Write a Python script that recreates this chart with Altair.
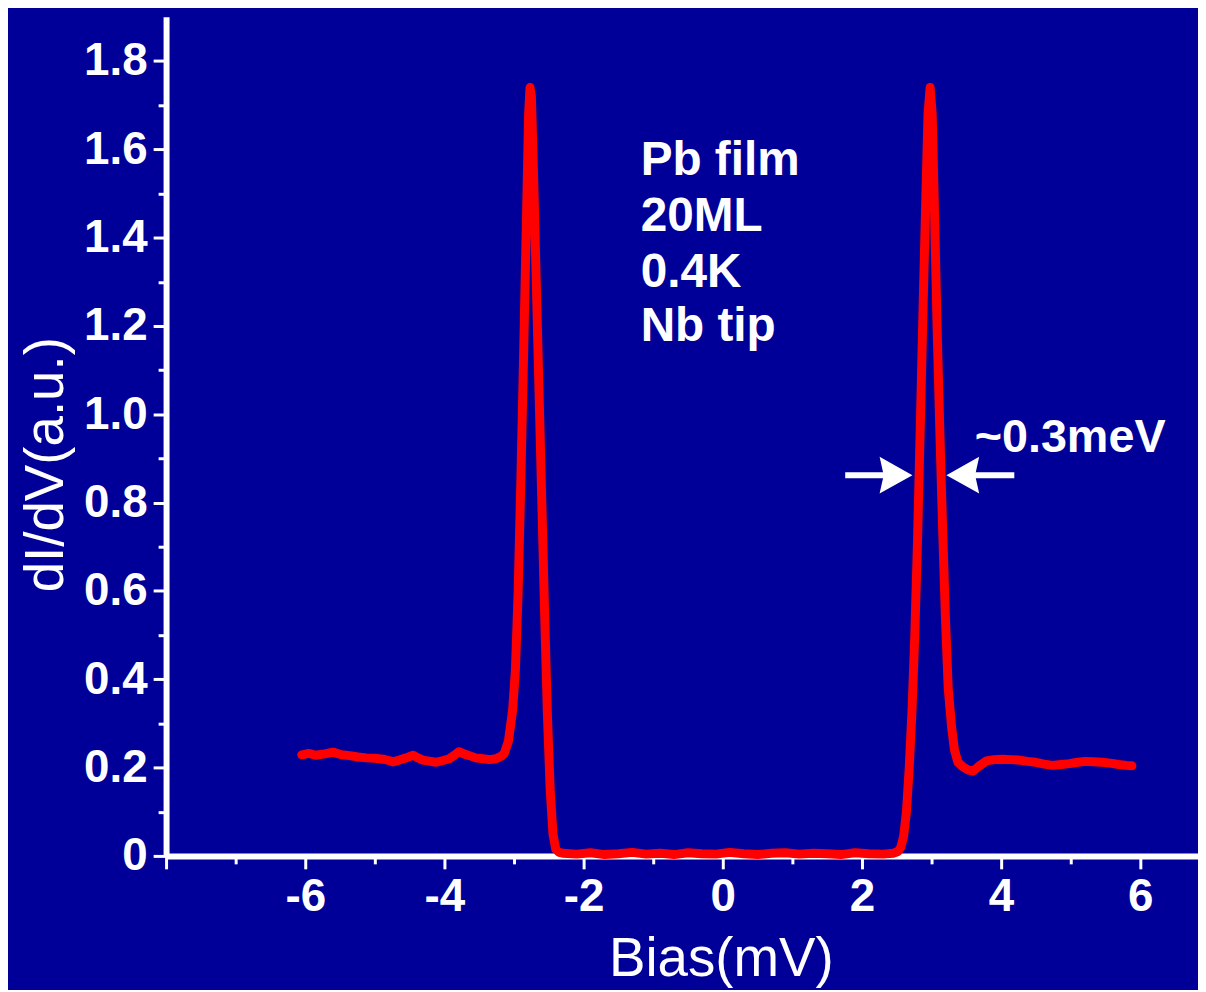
import altair as alt
import pandas as pd

# ---------------- data ----------------
bias_mV = [
    -6.05, -5.95, -5.85, -5.72, -5.60, -5.48, -5.36, -5.24, -5.12, -5.00,
    -4.88, -4.80, -4.74, -4.65, -4.55, -4.45, -4.38, -4.31, -4.20, -4.12,
    -4.02, -3.93, -3.85, -3.79, -3.72, -3.64, -3.55, -3.45, -3.35, -3.26,
    -3.18, -3.14, -3.08, -3.02, -2.98, -2.94, -2.90, -2.86, -2.82, -2.79,
    -2.77, -2.75, -2.72, -2.68, -2.64, -2.60, -2.56, -2.52, -2.48, -2.44,
    -2.40, -2.35, -2.30, -2.10, -1.90, -1.70, -1.50, -1.30, -1.10, -0.90,
    -0.70, -0.50, -0.30, -0.10, 0.10, 0.30, 0.50, 0.70, 0.90, 1.10,
    1.30, 1.50, 1.70, 1.90, 2.10, 2.30, 2.45, 2.52, 2.56, 2.60,
    2.64, 2.68, 2.72, 2.76, 2.80, 2.84, 2.88, 2.92, 2.95, 2.98,
    3.01, 3.04, 3.08, 3.12, 3.16, 3.20, 3.24, 3.29, 3.33, 3.38,
    3.45, 3.52, 3.60, 3.68, 3.79, 3.90, 4.02, 4.14, 4.26, 4.38,
    4.50, 4.62, 4.74, 4.86, 4.98, 5.10, 5.21, 5.33, 5.45, 5.57,
    5.69, 5.80, 5.88,
]
dIdV = [
    0.229, 0.232, 0.228, 0.231, 0.235, 0.229, 0.227, 0.224, 0.222, 0.221,
    0.219, 0.216, 0.213, 0.217, 0.222, 0.228, 0.222, 0.217, 0.214, 0.212,
    0.216, 0.220, 0.229, 0.236, 0.231, 0.227, 0.222, 0.220, 0.218, 0.220,
    0.226, 0.232, 0.260, 0.330, 0.420, 0.600, 0.860, 1.150, 1.450, 1.680,
    1.740, 1.720, 1.550, 1.300, 1.050, 0.800, 0.550, 0.320, 0.150, 0.050,
    0.015, 0.008, 0.006, 0.004, 0.007, 0.003, 0.005, 0.008, 0.004, 0.006,
    0.003, 0.007, 0.005, 0.004, 0.008, 0.005, 0.003, 0.006, 0.007, 0.004,
    0.006, 0.005, 0.003, 0.007, 0.005, 0.004, 0.006, 0.010, 0.020, 0.045,
    0.100, 0.200, 0.330, 0.500, 0.720, 0.980, 1.250, 1.500, 1.680, 1.740,
    1.680, 1.480, 1.200, 0.960, 0.740, 0.540, 0.380, 0.290, 0.240, 0.212,
    0.202, 0.195, 0.192, 0.203, 0.215, 0.218, 0.219, 0.218, 0.217, 0.214,
    0.212, 0.208, 0.205, 0.207, 0.209, 0.212, 0.214, 0.213, 0.212, 0.210,
    0.207, 0.205, 0.204,
]

x_major_ticks = [-8, -6, -4, -2, 0, 2, 4, 6]
x_minor_ticks = [-7, -5, -3, -1, 1, 3, 5]
y_major_ticks = [0, 0.2, 0.4, 0.6, 0.8, 1.0, 1.2, 1.4, 1.6, 1.8]
y_minor_ticks = [0.1, 0.3, 0.5, 0.7, 0.9, 1.1, 1.3, 1.5, 1.7]

info_lines = ["Pb film", "20ML", "0.4K", "Nb tip"]
info_x = [-1.18, -1.18, -1.18, -1.18]
info_y = [1.542, 1.414, 1.288, 1.166]

width_label = ["~0.3meV"]
width_label_x = [3.62]
width_label_y = [0.914]

arrow_tail_x = [1.76, 4.19]
arrow_head_x = [2.49, 3.45]
arrow_y = [0.862, 0.862]

# ---------------- styling ----------------
BG = "#000099"
RED = "#ff0000"
WHITE = "#ffffff"
FONT = "Liberation Sans"

HEAD_RIGHT = "M 1 0 L -1 -1.12 L -0.75 0 L -1 1.12 Z"
HEAD_LEFT = "M -1 0 L 1 -1.12 L 0.75 0 L 1 1.12 Z"

curve_df = pd.DataFrame({"bias": bias_mV, "didv": dIdV})
info_df = pd.DataFrame({"x": info_x, "y": info_y, "label": info_lines})
wl_df = pd.DataFrame({"x": width_label_x, "y": width_label_y, "label": width_label})
shaft_df = pd.DataFrame({"x0": arrow_tail_x, "x1": arrow_head_x, "y": arrow_y})
head_df = pd.DataFrame({"x": arrow_head_x, "y": arrow_y, "shape": [HEAD_RIGHT, HEAD_LEFT]})

xscale = alt.Scale(domain=[-8, 6.83], nice=False, zero=False)
yscale = alt.Scale(domain=[0, 1.9], nice=False, zero=False)

x_axis_main = alt.Axis(
    values=x_major_ticks, orient="bottom", grid=False,
    domain=True, domainColor=WHITE, domainWidth=6,
    ticks=True, tickColor=WHITE, tickWidth=3, tickSize=13,
    labelColor=WHITE, labelFont=FONT, labelFontWeight="bold", labelFontSize=46,
    labelPadding=6, labelFlush=False, labelOverlap=False,
    labelExpr="datum.value == -8 ? '' : toString(datum.value)",
    title="Bias(mV)", titleColor=WHITE, titleFont=FONT, titleFontWeight="normal",
    titleFontSize=55, titleX=558, titleY=120, titleAlign="center",
    titleBaseline="alphabetic",
)
y_axis_main = alt.Axis(
    values=y_major_ticks, orient="left", grid=False,
    domain=True, domainColor=WHITE, domainWidth=6,
    ticks=True, tickColor=WHITE, tickWidth=3, tickSize=13,
    labelColor=WHITE, labelFont=FONT, labelFontWeight="bold", labelFontSize=46,
    labelPadding=6, labelFlush=False, labelOverlap=False,
    labelExpr="datum.value == 0 ? '0' : format(datum.value, '.1f')",
    title="dI/dV(a.u.)", titleColor=WHITE, titleFont=FONT, titleFontWeight="normal",
    titleFontSize=55, titleX=-104, titleY=450, titleAngle=270, titleAlign="center",
    titleBaseline="alphabetic",
)
x_axis_minor = alt.Axis(
    values=x_minor_ticks, orient="bottom", grid=False, domain=False,
    ticks=True, tickColor=WHITE, tickWidth=3, tickSize=8, labels=False, title=None,
)
y_axis_minor = alt.Axis(
    values=y_minor_ticks, orient="left", grid=False, domain=False,
    ticks=True, tickColor=WHITE, tickWidth=3, tickSize=8, labels=False, title=None,
)

curve = alt.Chart(curve_df).mark_line(
    color=RED, strokeWidth=9, strokeCap="round", strokeJoin="round"
).encode(
    x=alt.X("bias:Q", scale=xscale, axis=x_axis_main),
    y=alt.Y("didv:Q", scale=yscale, axis=y_axis_main),
    order=alt.Order("bias:Q"),
)

shafts = alt.Chart(shaft_df).mark_rule(color=WHITE, strokeWidth=6).encode(
    x=alt.X("x0:Q", scale=xscale, axis=x_axis_minor),
    x2="x1:Q",
    y=alt.Y("y:Q", scale=yscale, axis=y_axis_minor),
)

heads = alt.Chart(head_df).mark_point(
    filled=True, color=WHITE, opacity=1, size=1089, strokeWidth=0
).encode(
    x=alt.X("x:Q", scale=xscale, axis=None),
    y=alt.Y("y:Q", scale=yscale, axis=None),
    shape=alt.Shape("shape:N", scale=None),
)

info_text = alt.Chart(info_df).mark_text(
    align="left", baseline="alphabetic", font=FONT, fontSize=48,
    fontWeight="bold", color=WHITE,
).encode(
    x=alt.X("x:Q", scale=xscale, axis=None),
    y=alt.Y("y:Q", scale=yscale, axis=None),
    text="label:N",
)

wl_text = alt.Chart(wl_df).mark_text(
    align="left", baseline="alphabetic", font=FONT, fontSize=47,
    fontWeight="bold", color=WHITE,
).encode(
    x=alt.X("x:Q", scale=xscale, axis=None),
    y=alt.Y("y:Q", scale=yscale, axis=None),
    text="label:N",
)

chart = (
    alt.layer(curve, shafts, heads, info_text, wl_text)
    .resolve_axis(x="independent", y="independent")
    .properties(
        width=1038,
        height=844,
        background=BG,
        padding={"left": 159, "top": 6, "right": 0, "bottom": 132},
        autosize=alt.AutoSizeParams(type="none"),
    )
    .configure_view(strokeWidth=0)
)

chart.save("out.html", embed_options={"renderer": "svg", "actions": False})
